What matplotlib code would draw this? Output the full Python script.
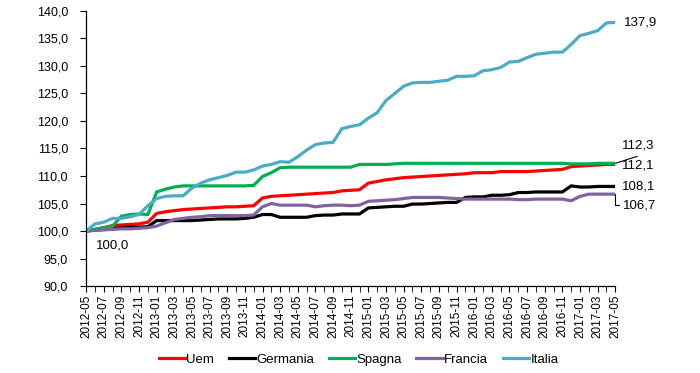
import numpy as np
import pandas as pd
import matplotlib
matplotlib.use("Agg")
import matplotlib.pyplot as plt
from matplotlib.ticker import FuncFormatter, MultipleLocator

# mesi 2012-05 .. 2017-05
mesi = pd.period_range("2012-05", "2017-05", freq="M").strftime("%Y-%m").tolist()

uem = [100.0, 100.3, 100.6, 101.0, 101.1, 101.2, 101.3, 101.6, 103.2, 103.5,
       103.7, 103.9, 104.0, 104.1, 104.2, 104.3, 104.4, 104.4, 104.5, 104.6,
       106.0, 106.3, 106.4, 106.5, 106.6, 106.7, 106.8, 106.9, 107.0, 107.3,
       107.4, 107.5, 108.7, 109.0, 109.3, 109.5, 109.7, 109.8, 109.9, 110.0,
       110.1, 110.2, 110.3, 110.4, 110.6, 110.6, 110.6, 110.8, 110.8, 110.8,
       110.8, 110.9, 111.0, 111.1, 111.2, 111.7, 111.8, 111.9, 112.0, 112.1,
       112.1]
germania = [100.0, 100.2, 100.3, 100.4, 100.6, 100.7, 100.7, 100.8, 101.9, 101.9,
            101.9, 101.9, 101.9, 102.0, 102.1, 102.2, 102.2, 102.2, 102.3, 102.5,
            103.0, 103.0, 102.5, 102.5, 102.5, 102.5, 102.8, 102.9, 102.9, 103.1,
            103.1, 103.1, 104.2, 104.3, 104.4, 104.5, 104.5, 104.9, 104.9, 105.0,
            105.1, 105.2, 105.2, 106.1, 106.2, 106.2, 106.5, 106.5, 106.6, 107.0,
            107.0, 107.1, 107.1, 107.1, 107.1, 108.2, 108.0, 108.0, 108.1, 108.1,
            108.1]
spagna = [100.0, 100.3, 100.6, 100.9, 102.7, 103.0, 103.1, 103.0, 107.1, 107.6,
          108.0, 108.2, 108.2, 108.2, 108.2, 108.2, 108.2, 108.2, 108.2, 108.3,
          109.9, 110.6, 111.5, 111.6, 111.6, 111.6, 111.6, 111.6, 111.6, 111.6,
          111.6, 112.1, 112.1, 112.1, 112.1, 112.2, 112.3, 112.3, 112.3, 112.3,
          112.3, 112.3, 112.3, 112.3, 112.3, 112.3, 112.3, 112.3, 112.3, 112.3,
          112.3, 112.3, 112.3, 112.3, 112.3, 112.2, 112.2, 112.2, 112.3, 112.3,
          112.3]
francia = [100.0, 100.1, 100.2, 100.3, 100.4, 100.4, 100.5, 100.6, 100.9, 101.5,
           102.1, 102.3, 102.5, 102.6, 102.8, 102.8, 102.8, 102.8, 102.8, 102.9,
           104.4, 105.0, 104.7, 104.7, 104.7, 104.7, 104.4, 104.6, 104.7, 104.7,
           104.6, 104.7, 105.4, 105.5, 105.6, 105.7, 105.9, 106.1, 106.1, 106.1,
           106.1, 106.0, 105.9, 105.8, 105.8, 105.8, 105.8, 105.8, 105.8, 105.7,
           105.7, 105.8, 105.8, 105.8, 105.8, 105.5, 106.3, 106.7, 106.7, 106.7,
           106.7]
italia = [100.0, 101.3, 101.6, 102.3, 102.3, 102.6, 103.0, 104.6, 105.9, 106.3,
          106.4, 106.4, 107.8, 108.7, 109.3, 109.7, 110.1, 110.7, 110.7, 111.1,
          111.8, 112.1, 112.6, 112.5, 113.5, 114.7, 115.7, 116.0, 116.1, 118.6,
          119.0, 119.3, 120.5, 121.5, 123.7, 125.0, 126.3, 126.9, 127.0, 127.0,
          127.2, 127.4, 128.1, 128.1, 128.2, 129.1, 129.3, 129.7, 130.7, 130.8,
          131.5, 132.1, 132.3, 132.5, 132.5, 133.9, 135.5, 135.9, 136.4, 137.8,
          137.9]

serie = [("Uem", uem, "#FF0000"),
         ("Germania", germania, "#000000"),
         ("Spagna", spagna, "#00B050"),
         ("Francia", francia, "#8064A2"),
         ("Italia", italia, "#4BACC6")]

plt.rcParams['font.family'] = ['Liberation Sans Narrow', 'Liberation Sans', 'DejaVu Sans']
fs = 9

fig = plt.figure(figsize=(7, 3.73), dpi=100)
ax = fig.add_axes([0.123, 0.233, 0.756, 0.738])

x = np.arange(len(mesi))
for nome, val, col in serie:
    ax.plot(x, val, color=col, lw=2.3, label=nome, solid_joinstyle='miter')

ax.set_xlim(0, len(mesi) - 1)
ax.set_ylim(90, 140)
ax.yaxis.set_major_locator(MultipleLocator(5))
ax.yaxis.set_major_formatter(FuncFormatter(lambda v, p: f"{v:.1f}".replace(".", ",")))
ax.set_xticks(x[::2])
ax.set_xticklabels(mesi[::2], rotation=90, fontsize=fs - 0.5)
ax.set_xticks(x, minor=True)
ax.tick_params(axis='y', labelsize=fs, length=4, direction='out', pad=9)
ax.tick_params(axis='x', which='both', length=4, direction='out', pad=2)
for s in ["top", "right"]:
    ax.spines[s].set_visible(False)
for s in ["left", "bottom"]:
    ax.spines[s].set_linewidth(0.9)

# etichette finali
def fmt(v):
    return f"{v:.1f}".replace(".", ",")

n = len(mesi) - 1
ax.annotate(fmt(italia[-1]), xy=(n, italia[-1]), xytext=(9, 0), textcoords='offset pixels',
            ha='left', va='center', fontsize=fs + 0.5)
ax.annotate('', xy=(n, spagna[-1]), xytext=(22, 7), textcoords='offset pixels',
            arrowprops=dict(arrowstyle='-', color='black', lw=0.8, shrinkA=0, shrinkB=0))
ax.annotate(fmt(spagna[-1]), xy=(n, spagna[-1]), xytext=(7, 18), textcoords='offset pixels',
            ha='left', va='center', fontsize=fs + 0.5)
ax.annotate(fmt(uem[-1]), xy=(n, uem[-1]), xytext=(7, -1), textcoords='offset pixels',
            ha='left', va='center', fontsize=fs + 0.5)
ax.annotate(fmt(germania[-1]), xy=(n, germania[-1]), xytext=(7, 0), textcoords='offset pixels',
            ha='left', va='center', fontsize=fs + 0.5)
ax.annotate(fmt(francia[-1]), xy=(n, francia[-1]), xytext=(8, -11), textcoords='offset pixels',
            ha='left', va='center', fontsize=fs + 0.5,
            arrowprops=dict(arrowstyle='-', color='black', lw=0.8, shrinkA=1, shrinkB=0,
                            connectionstyle='angle,angleA=0,angleB=90,rad=0'))
ax.annotate(fmt(italia[0]), xy=(0, italia[0]), xytext=(10, -14), textcoords='offset pixels',
            ha='left', va='center', fontsize=fs + 0.5)

fig.legend(loc='center', bbox_to_anchor=(0.512, 0.035), ncol=5, frameon=False,
           fontsize=fs + 0.5, handlelength=2.0, handletextpad=0.1, columnspacing=1.1)

fig.savefig("out.png", dpi=100)
